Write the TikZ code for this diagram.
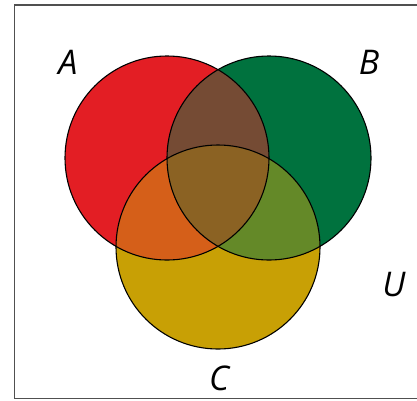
\documentclass[tikz,border=0pt]{standalone}
\usepackage{fontspec}
\setmainfont{Open Sans}
\definecolor{cA}{RGB}{227,30,36}
\definecolor{cB}{RGB}{0,114,62}
\definecolor{cC}{RGB}{200,160,5}
\definecolor{cAB}{RGB}{117,75,52}
\definecolor{cAC}{RGB}{213,95,25}
\definecolor{cBC}{RGB}{100,137,40}
\definecolor{cABC}{RGB}{139,98,35}
\definecolor{frame}{RGB}{80,80,80}
\tikzset{
  lbl/.style={font=\fontsize{34}{34}\selectfont\itshape, inner sep=0pt},
  edge/.style={draw=black, line width=1.1pt}
}
\begin{document}
\begin{tikzpicture}[x=1pt,y=-1pt]
\useasboundingbox (0,0) rectangle (417,400);
\def\r{102}
\coordinate (A) at (167,158);
\coordinate (B) at (269,158);
\coordinate (C) at (218,247);
\draw[frame, line width=1.5pt] (14.5,5) -- (430,5) -- (430,398.5) -- (14.5,398.5) -- cycle;
\fill[cA] (A) circle (\r);
\fill[cB] (B) circle (\r);
\fill[cC] (C) circle (\r);
\begin{scope}
  \clip (A) circle (\r);
  \fill[cAB] (B) circle (\r);
  \fill[cAC] (C) circle (\r);
  \clip (B) circle (\r);
  \fill[cABC] (C) circle (\r);
\end{scope}
\begin{scope}
  \clip (B) circle (\r);
  \clip (C) circle (\r);
  \fill[cBC] (B) circle (\r);
  \clip (A) circle (\r);
  \fill[cABC] (C) circle (\r);
\end{scope}
\draw[edge] (A) circle (\r);
\draw[edge] (B) circle (\r);
\draw[edge] (C) circle (\r);
\node[lbl] (la) at (68,62) {A};
\node[lbl] (lb) at (369,62) {B};
\node[lbl] (lu) at (394,285) {U};
\node[lbl] (lc) at (219,378) {C};
\end{tikzpicture}
\end{document}
